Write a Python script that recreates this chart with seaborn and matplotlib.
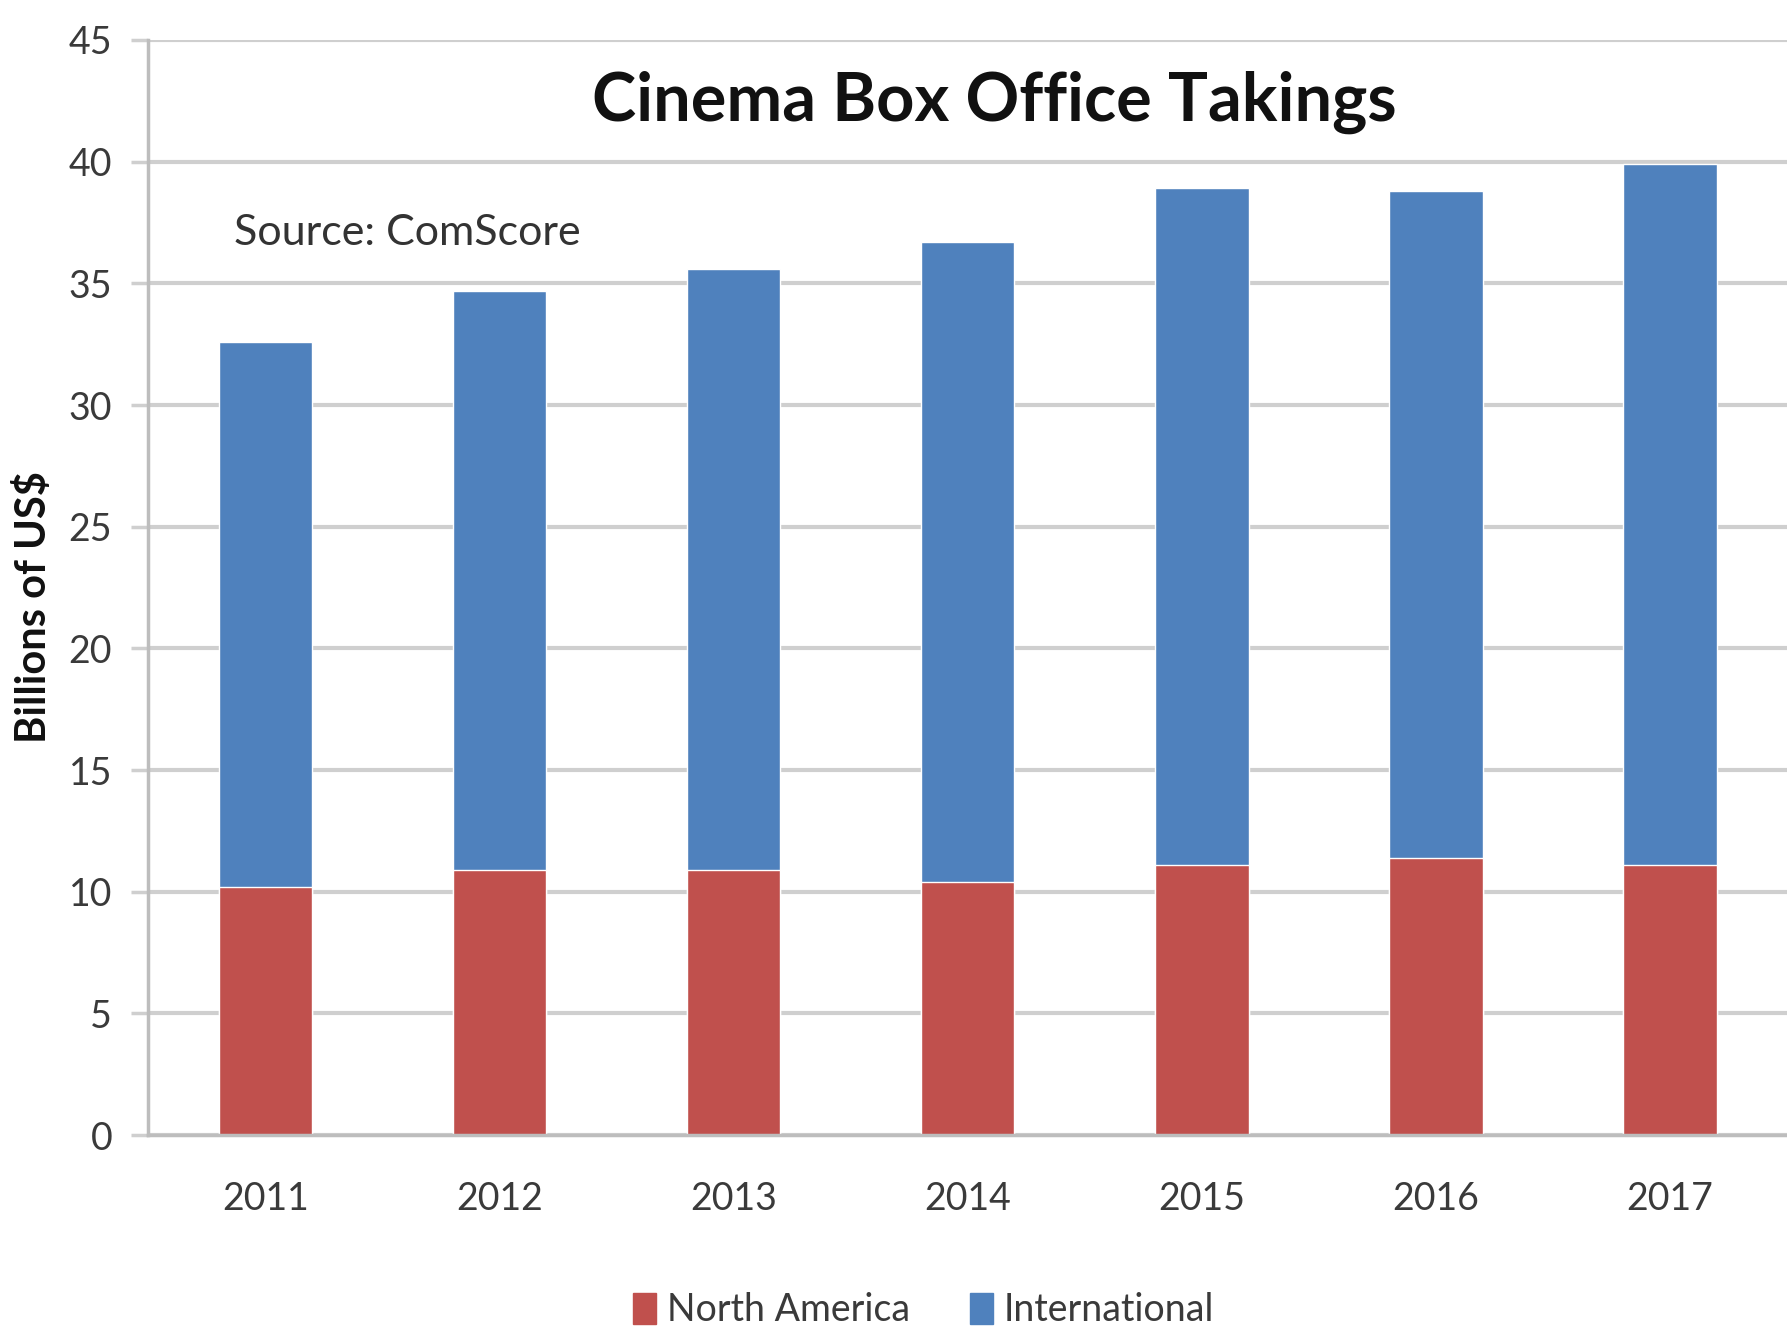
import matplotlib
matplotlib.use("Agg")
import matplotlib.pyplot as plt
import matplotlib.patches as mpatches
import numpy as np
import pandas as pd
import seaborn as sns

years = ["2011", "2012", "2013", "2014", "2015", "2016", "2017"]
north_america = [10.2, 10.9, 10.9, 10.4, 11.1, 11.4, 11.1]
international = [22.4, 23.8, 24.7, 26.3, 27.8, 27.4, 28.8]

red = "#C0504D"
blue = "#4F81BD"

sns.set_theme(style="white")
plt.rcParams["font.family"] = ["Lato", "DejaVu Sans"]

df = pd.DataFrame({"year": years, "na": north_america, "intl": international})
df["total"] = df["na"] + df["intl"]

fig = plt.figure(figsize=(17.87, 13.33), dpi=100)
ax = fig.add_axes([0.083, 0.1485, 0.917, 0.8215])

# stacked: draw totals in blue, then north america on top in red
sns.barplot(data=df, x="year", y="total", color=blue, saturation=1, width=0.4, ax=ax, zorder=3)
sns.barplot(data=df, x="year", y="na", color=red, saturation=1, width=0.4, ax=ax, zorder=4)

ax.set_xlim(-0.5, 6.5)
ax.set_ylim(0, 45)
ax.set_yticks(np.arange(0, 46, 5))
ax.grid(axis="y", color="#cfcfcf", linewidth=3, zorder=0)
ax.set_axisbelow(True)

for s in ["top", "right"]:
    ax.spines[s].set_visible(False)
for s in ["left", "bottom"]:
    ax.spines[s].set_color("#bdbdbd")
    ax.spines[s].set_linewidth(2.5)
    ax.spines[s].set_zorder(5)

ax.set_xticks(np.arange(-0.5, 6.6, 1), minor=True)
ax.tick_params(axis="x", which="major", length=0, pad=33, labelsize=27, labelcolor="#3a3a3a")
ax.tick_params(axis="x", which="minor", length=14, width=2.5, color="#bdbdbd", direction="out")
ax.tick_params(axis="y", which="major", length=12, width=2.5, color="#cfcfcf", pad=14,
               labelsize=27, labelcolor="#3a3a3a", left=True)

ax.set_xlabel("")
ax.set_ylabel("Billions of US$", fontsize=30, fontweight="bold", color="#111111")
ax.yaxis.set_label_coords(-0.058, 0.482)

ax.text(0.516, 0.943, "Cinema Box Office Takings", transform=ax.transAxes,
        ha="center", va="center", fontsize=48, fontweight="bold", color="#111111")
ax.text(0.052, 0.824, "Source: ComScore", transform=ax.transAxes,
        ha="left", va="center", fontsize=31, color="#333333")

handles = [mpatches.Patch(color=red, label="North America"),
           mpatches.Patch(color=blue, label="International")]
fig.legend(handles=handles, loc="center", bbox_to_anchor=(0.517, 0.017), ncol=2,
           frameon=False, fontsize=27, handlelength=0.6, handleheight=0.9,
           handletextpad=0.3, columnspacing=1.6, labelcolor="#3a3a3a")

fig.savefig("out.png", dpi=100)
